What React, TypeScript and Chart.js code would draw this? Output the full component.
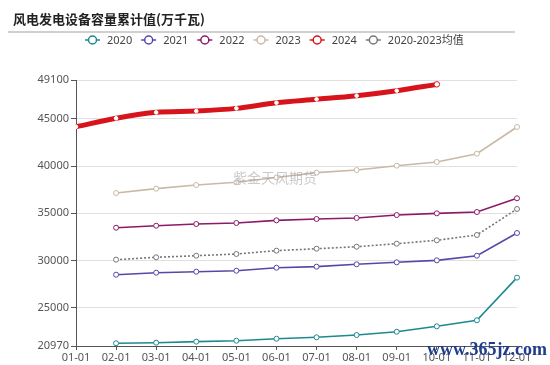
import React, { useEffect, useRef } from "react";
import { Chart, registerables } from "chart.js";

Chart.register(...registerables);

const categories = ["01-01", "02-01", "03-01", "04-01", "05-01", "06-01", "07-01", "08-01", "09-01", "10-01", "11-01", "12-01"];
const yTicks = [20970, 25000, 30000, 35000, 40000, 45000, 49100];

const s2020 = [null, 21260, 21320, 21430, 21530, 21740, 21890, 22130, 22480, 23050, 23690, 28200];
const s2021 = [null, 28510, 28720, 28830, 28930, 29250, 29360, 29610, 29820, 30030, 30520, 32920];
const s2022 = [null, 33480, 33690, 33870, 33980, 34260, 34400, 34510, 34820, 35000, 35140, 36590];
const s2023 = [null, 37150, 37610, 37990, 38280, 38790, 39300, 39580, 40040, 40430, 41310, 44130];
const s2024 = [44160, 45050, 45680, 45820, 46100, 46700, 47060, 47440, 47970, 48640, null, null];
const sAvg = [null, 30100, 30350, 30520, 30700, 31050, 31260, 31470, 31790, 32150, 32710, 35460];

const seriesNames = ["2020", "2021", "2022", "2023", "2024", "2020-2023均值"];
const seriesColors = ["#1b8a8f", "#5a46a8", "#8c1a68", "#c9b9a6", "#d7141c", "#777777"];

const FONT = '"Noto Sans", "Noto Sans CJK SC", sans-serif';

const decorPlugin = {
  id: "decor",
  beforeDraw(chart: any) {
    const ctx = chart.ctx;
    ctx.save();
    ctx.fillStyle = "#ffffff";
    ctx.fillRect(0, 0, chart.width, chart.height);
    ctx.fillStyle = "#222";
    ctx.font = 'bold 13px "Noto Sans CJK SC", sans-serif';
    ctx.textBaseline = "middle";
    ctx.textAlign = "left";
    ctx.fillText("风电发电设备容量累计值(万千瓦)", 13, 19);
    ctx.strokeStyle = "#d0d0d0";
    ctx.lineWidth = 2;
    ctx.beginPath();
    ctx.moveTo(8, 32);
    ctx.lineTo(515, 32);
    ctx.stroke();
    ctx.font = "11px " + FONT;
    let x = 85;
    const y = 40;
    seriesNames.forEach((name, i) => {
      const c = seriesColors[i];
      ctx.strokeStyle = c;
      ctx.lineWidth = 1.5;
      ctx.beginPath();
      ctx.moveTo(x, y);
      ctx.lineTo(x + 15, y);
      ctx.stroke();
      ctx.beginPath();
      ctx.arc(x + 7.5, y, 4, 0, Math.PI * 2);
      ctx.fillStyle = "#fff";
      ctx.fill();
      ctx.stroke();
      ctx.fillStyle = "#444";
      ctx.fillText(name, x + 22, y + 0.5);
      x = x + 22 + ctx.measureText(name).width + 9;
    });
    ctx.restore();
  },
  afterDraw(chart: any) {
    const ctx = chart.ctx;
    ctx.save();
    ctx.textBaseline = "middle";
    ctx.textAlign = "center";
    ctx.font = '14px "Noto Sans CJK SC", sans-serif';
    ctx.fillStyle = "rgba(160,160,160,0.55)";
    ctx.fillText("紫金天风期货", 275, 178);
    ctx.font = 'bold 18px "Liberation Serif", serif';
    ctx.fillStyle = "#1f3d8c";
    ctx.textAlign = "left";
    ctx.fillText("www.365jz.com", 427, 350);
    ctx.restore();
  },
};

export default function App() {
  const ref = useRef<HTMLCanvasElement>(null);
  useEffect(() => {
    if (!ref.current) return;
    const allSeries = [s2020, s2021, s2022, s2023, s2024, sAvg];
    const datasets = allSeries.map((d, i) => {
      const isRed = i === 4;
      const isAvg = i === 5;
      return {
        label: seriesNames[i],
        data: d,
        borderColor: seriesColors[i],
        backgroundColor: "#ffffff",
        pointBackgroundColor: "#ffffff",
        pointBorderColor: isRed ? (c: any) => (c.dataIndex === 9 ? seriesColors[4] : "#ffffff") : seriesColors[i],
        pointBorderWidth: 1,
        pointRadius: isRed ? (c: any) => (c.dataIndex === 9 ? 2.8 : 1.8) : 2.5,
        borderWidth: isRed ? 5 : 1.6,
        borderDash: isAvg ? [2, 2] : [],
        cubicInterpolationMode: isRed ? "monotone" : "default",
        tension: 0,
        clip: false,
        order: isRed ? 0 : 1,
      };
    });
    const chart = new Chart(ref.current, {
      type: "line",
      data: { labels: categories, datasets: datasets as any },
      plugins: [decorPlugin],
      options: {
        animation: false,
        responsive: false,
        devicePixelRatio: 1,
        layout: { padding: { left: 0, right: 33, top: 80, bottom: 0 } },
        plugins: { legend: { display: false }, title: { display: false }, tooltip: { enabled: false } },
        scales: {
          x: {
            offset: false,
            grid: { display: true, drawOnChartArea: false, drawTicks: true, tickLength: 4, color: "#555", tickColor: "#555" },
            border: { display: true, color: "#555", width: 1 },
            ticks: { color: "#555", font: { size: 11, family: FONT }, padding: 1, maxRotation: 0, autoSkip: false },
            afterFit(scale: any) {
              scale.height = 19;
            },
          },
          y: {
            min: 20970,
            max: 49100,
            afterBuildTicks(scale: any) {
              scale.ticks = yTicks.map((v) => ({ value: v }));
            },
            grid: { color: "#e0e0e0", lineWidth: 1, tickLength: 5, tickColor: "#555" },
            border: { display: true, color: "#555", width: 1 },
            ticks: { color: "#555", font: { size: 11, family: FONT }, padding: 2, callback: (v: any) => String(v) },
            afterFit(scale: any) {
              scale.width = 76;
            },
          },
        },
      } as any,
    });
    return () => chart.destroy();
  }, []);
  return (
    <div style={{ position: "fixed", left: 0, top: 0, width: 550, height: 365, background: "#fff" }}>
      <canvas ref={ref} width={550} height={365} style={{ width: 550, height: 365, display: "block" }} />
    </div>
  );
}
